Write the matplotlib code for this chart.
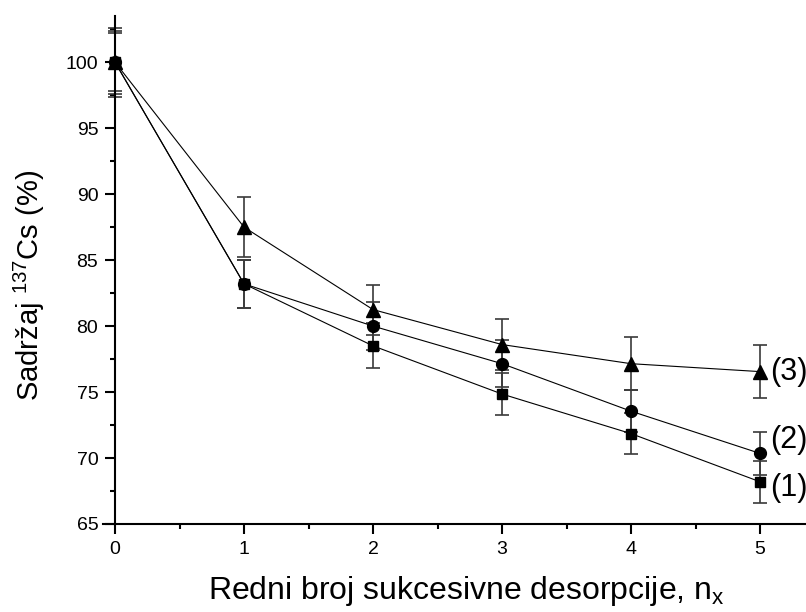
import matplotlib
matplotlib.use("Agg")
import matplotlib.pyplot as plt
from matplotlib.ticker import MultipleLocator

plt.rcParams['font.family'] = ['Liberation Sans', 'DejaVu Sans']
plt.rcParams['mathtext.fontset'] = 'custom'
plt.rcParams['mathtext.rm'] = 'Liberation Sans'
plt.rcParams['mathtext.it'] = 'Liberation Sans:italic'

# podaci
n_des = [0, 1, 2, 3, 4, 5]
cs_1 = [100.0, 83.2, 78.5, 74.85, 71.85, 68.2]
err_1 = [2.2, 1.8, 1.7, 1.6, 1.55, 1.6]
cs_2 = [100.0, 83.2, 80.0, 77.15, 73.55, 70.35]
err_2 = [2.4, 1.8, 1.8, 1.8, 1.6, 1.65]
cs_3 = [100.0, 87.5, 81.25, 78.6, 77.15, 76.55]
err_3 = [2.6, 2.3, 1.9, 1.9, 2.0, 2.0]
series_labels = ['(1)', '(2)', '(3)']

fig = plt.figure(figsize=(8.06, 6.12), dpi=100)
ax = fig.add_axes([0.1283, 0.1438, 0.8947, 0.830])

series = [(cs_1, err_1, 's', 7.5, -4.5), (cs_2, err_2, 'o', 8.5, 9.5), (cs_3, err_3, '^', 9.5, 0)]
for (vals, errs, mk, ms, dy), lab in zip(series, series_labels):
    ax.errorbar(n_des, vals, yerr=errs, fmt='none', ecolor='#3a3a3a', elinewidth=1.2,
                capsize=5, capthick=1.2, zorder=2, clip_on=False)
    ax.plot(n_des, vals, color='black', lw=0.8, marker=mk, markersize=ms,
            markerfacecolor='black', markeredgecolor='black', zorder=3, clip_on=False)
    ax.annotate(lab, (n_des[-1], vals[-1]), xytext=(7, dy), textcoords='offset points',
                ha='left', va='center', fontsize=22, annotation_clip=False)

ax.set_xlim(-0.09, 5.5)
ax.set_ylim(65, 103.5)
ax.spines['left'].set_position(('data', 0))
ax.spines['right'].set_visible(False)
ax.spines['top'].set_visible(False)
for sp in ('left', 'bottom'):
    ax.spines[sp].set_linewidth(1.5)

ax.xaxis.set_major_locator(MultipleLocator(1))
ax.xaxis.set_minor_locator(MultipleLocator(0.5))
ax.yaxis.set_major_locator(MultipleLocator(5))
ax.yaxis.set_minor_locator(MultipleLocator(2.5))
ax.tick_params(which='major', direction='out', length=7, width=1.5, labelsize=14, pad=5)
ax.tick_params(which='minor', direction='out', length=3.5, width=1.5)

ax.set_xlabel('Redni broj sukcesivne desorpcije, n$_{\\mathrm{x}}$', fontsize=23)
ax.xaxis.set_label_coords(0.503, -0.148)
ax.xaxis.label.set_va('baseline')
ax.set_ylabel('Sadržaj $^{137}$Cs (%)', fontsize=21)
ax.yaxis.set_label_coords(-0.102, 0.47)
ax.yaxis.label.set_va('center')

fig.savefig('out.png', dpi=100)
